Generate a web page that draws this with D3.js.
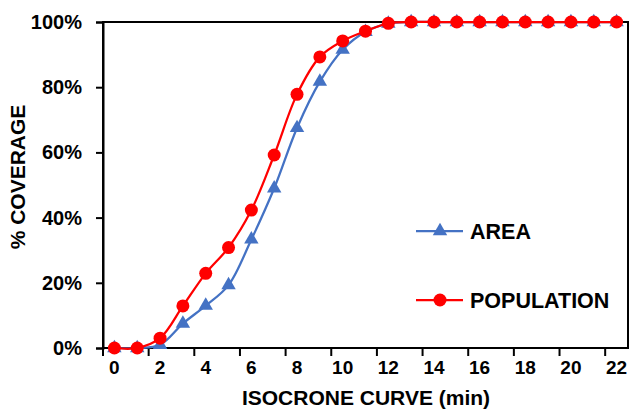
<!DOCTYPE html>
<html>
<head>
<meta charset="utf-8">
<script src="https://cdn.jsdelivr.net/npm/d3@7"></script>
<style>
  body { margin: 0; background: #fff; }
  text { font-family: "Liberation Sans", Arial, sans-serif; font-weight: bold; fill: #000; }
</style>
</head>
<body>
<div id="chart"></div>
<script>
// isochrone minutes (categories)
var minutes = [0, 1, 2, 3, 4, 5, 6, 7, 8, 9, 10, 11, 12, 13, 14, 15, 16, 17, 18, 19, 20, 21, 22];
// % coverage
var area = [0, 0, 1, 7.5, 13, 19.3, 33.3, 49, 67.5, 81.7, 91.5, 97, 99.5, 100, 100, 100, 100, 100, 100, 100, 100, 100, 100];
var population = [0, 0, 3, 12.9, 22.9, 30.8, 42.3, 59.2, 77.8, 89.3, 94.2, 97.2, 99.6, 100, 100, 100, 100, 100, 100, 100, 100, 100, 100];
var yTicks = [0, 20, 40, 60, 80, 100];
var xLabels = [0, 2, 4, 6, 8, 10, 12, 14, 16, 18, 20, 22];

var w = 630, h = 410;
var padL = 103, padR = 628, padT = 22, padB = 348;

var svg = d3.select("#chart").append("svg")
	.attr("width", w)
	.attr("height", h);

var x = d3.scaleBand()
	.domain(minutes)
	.range([padL, padR])
	.padding(0);

var y = d3.scaleLinear()
	.domain([0, 100])
	.range([padB, padT]);

function cx(d) { return x(d) + x.bandwidth() / 2; }

// plot border
svg.append("rect")
	.attr("x", padL)
	.attr("y", padT)
	.attr("width", padR - padL)
	.attr("height", padB - padT)
	.attr("fill", "none")
	.attr("stroke", "#000")
	.attr("stroke-width", 2);

// y axis
var yAxis = d3.axisLeft(y)
	.tickValues(yTicks)
	.tickSize(7)
	.tickPadding(14)
	.tickFormat(function (d) { return d + "%"; });

var gy = svg.append("g")
	.attr("transform", "translate(" + padL + ",0)")
	.call(yAxis);
gy.select(".domain").attr("stroke-width", 2);
gy.selectAll(".tick line").attr("stroke-width", 2);
gy.selectAll("text")
	.style("font-size", "20px")
	.style("font-family", "Liberation Sans, Arial, sans-serif")
	.style("font-weight", "bold")
	.attr("fill", "#000");

// x axis: ticks on category boundaries every 2, labels on even categories
var gx = svg.append("g")
	.attr("transform", "translate(0," + padB + ")");
gx.append("line")
	.attr("x1", padL).attr("x2", padR)
	.attr("stroke", "#000").attr("stroke-width", 2);
gx.selectAll(".xt")
	.data(xLabels)
	.enter()
	.append("line")
	.attr("class", "xt")
	.attr("x1", function (d) { return x(d); })
	.attr("x2", function (d) { return x(d); })
	.attr("y1", 0)
	.attr("y2", 8)
	.attr("stroke", "#000")
	.attr("stroke-width", 2);
gx.selectAll(".xl")
	.data(xLabels)
	.enter()
	.append("text")
	.attr("class", "xl")
	.attr("x", function (d) { return cx(d); })
	.attr("y", 26)
	.attr("text-anchor", "middle")
	.style("font-size", "19px")
	.text(function (d) { return d; });

// axis titles
svg.append("text")
	.attr("x", 366)
	.attr("y", 405)
	.attr("text-anchor", "middle")
	.style("font-size", "21px")
	.text("ISOCRONE CURVE (min)");

svg.append("text")
	.attr("transform", "translate(25,177) rotate(-90)")
	.attr("text-anchor", "middle")
	.style("font-size", "21px")
	.text("% COVERAGE");

// lines
var series = [
	{ name: "AREA", values: area, color: "#4472C4", marker: "tri" },
	{ name: "POPULATION", values: population, color: "#FF0000", marker: "dot" }
];

var line = d3.line()
	.x(function (d, i) { return cx(minutes[i]); })
	.y(function (d) { return y(d); })
	.curve(d3.curveCatmullRom);

var tri = d3.symbol().type(d3.symbolTriangle).size(90);

series.forEach(function (s) {
	svg.append("path")
		.datum(s.values)
		.attr("d", line)
		.attr("fill", "none")
		.attr("stroke", s.color)
		.attr("stroke-width", 2.25);

	if (s.marker == "dot") {
		svg.selectAll(".dot")
			.data(s.values)
			.enter()
			.append("circle")
			.attr("cx", function (d, i) { return cx(minutes[i]); })
			.attr("cy", function (d) { return y(d); })
			.attr("r", 6.5)
			.attr("fill", s.color);
	} else {
		svg.selectAll(".tri")
			.data(s.values)
			.enter()
			.append("path")
			.attr("d", tri)
			.attr("transform", function (d, i) { return "translate(" + cx(minutes[i]) + "," + y(d) + ")"; })
			.attr("fill", s.color);
	}
});

// legend
var legY = [231, 300];
series.forEach(function (s, i) {
	var g = svg.append("g").attr("transform", "translate(416," + legY[i] + ")");
	g.append("line")
		.attr("x1", 0).attr("x2", 47)
		.attr("stroke", s.color).attr("stroke-width", 2.25);
	if (s.marker == "dot") {
		g.append("circle").attr("cx", 24).attr("r", 6.5).attr("fill", s.color);
	} else {
		g.append("path").attr("d", tri).attr("transform", "translate(24,0)").attr("fill", s.color);
	}
	g.append("text")
		.attr("x", 54)
		.attr("y", 7.5)
		.style("font-size", "21.5px")
		.text(s.name);
});
</script>
</body>
</html>
